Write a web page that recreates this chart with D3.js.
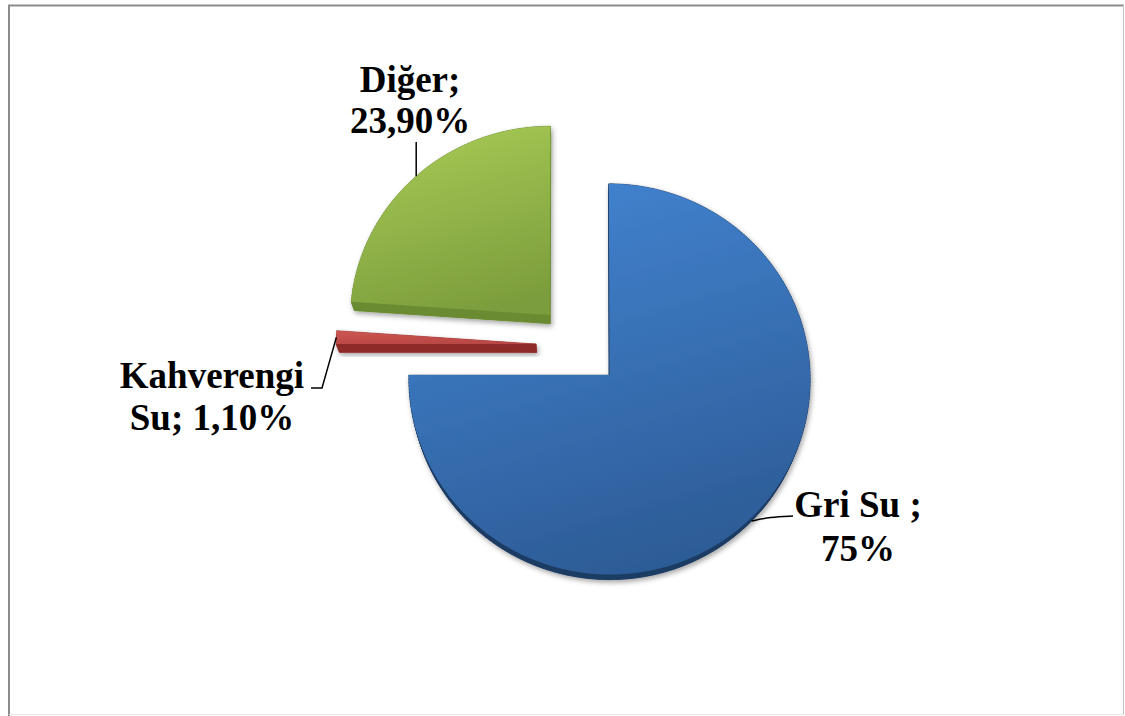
<!DOCTYPE html>
<html>
<head>
<meta charset="utf-8">
<script src="https://cdn.jsdelivr.net/npm/d3@7"></script>
<style>
  html, body { margin: 0; padding: 0; background: #ffffff; }
  svg { display: block; }
</style>
</head>
<body>
<script>
// Water share by category (percent)
const categories = ["Gri Su", "Kahverengi Su", "Diğer"];
const values = [75, 1.1, 23.9];
// Label text lines as printed next to each slice
const labelLines = [["Gri Su ;", "75%"], ["Kahverengi", "Su; 1,10%"], ["Diğer;", "23,90%"]];
const topColors = [["#4283d0", "#2c5b95"], ["#cc5551", "#b84744"], ["#a6c955", "#7c9d3c"]];
const sideColors = ["#1f3c64", "#8e2b29", "#6a8b31"];

const W = 1125, H = 716;
const svg = d3.select("body").append("svg").attr("width", W).attr("height", H);

// frame
svg.append("rect").attr("width", W).attr("height", H).attr("fill", "#fff");
svg.append("line").attr("x1", 8).attr("x2", 1124).attr("y1", 5.5).attr("y2", 5.5)
  .attr("stroke", "#8c8c8c").attr("stroke-width", 2);
svg.append("line").attr("x1", 9).attr("x2", 9).attr("y1", 5).attr("y2", 716)
  .attr("stroke", "#8c8c8c").attr("stroke-width", 2);
svg.append("line").attr("x1", 1123.5).attr("x2", 1123.5).attr("y1", 5).attr("y2", 715)
  .attr("stroke", "#c4c4c4").attr("stroke-width", 1);
svg.append("line").attr("x1", 9).attr("x2", 1124).attr("y1", 714.5).attr("y2", 714.5)
  .attr("stroke", "#e6e6e6").attr("stroke-width", 1);

// 3D pie geometry: table-plane coordinates projected with a mild tilt and perspective
const O = { x: 579, y: 345.5 };
const R = 200, explode = 43, thick = 34;
const tilt = 14 * Math.PI / 180, dist = 2340;
function project(u, v, z) {
  const s = dist / (dist - v * Math.sin(tilt) - z * Math.cos(tilt));
  return [O.x + u * s, O.y + (v * Math.cos(tilt) - z * Math.sin(tilt)) * s];
}

const arcs = d3.pie().sort(null).value(d => d)(values);
const defs = svg.append("defs");

const shadow = defs.append("filter").attr("id", "shadow")
  .attr("x", "-20%").attr("y", "-20%").attr("width", "140%").attr("height", "140%");
shadow.append("feDropShadow").attr("dx", 1.5).attr("dy", 2.5).attr("stdDeviation", 2.5)
  .attr("flood-color", "#000").attr("flood-opacity", 0.35);

const line = d3.line();

function slicePoints(a) {
  const mid = (a.startAngle + a.endAngle) / 2;
  const cu = explode * Math.sin(mid), cv = -explode * Math.cos(mid);
  const pts = [[cu, cv]];
  const steps = Math.max(2, Math.ceil((a.endAngle - a.startAngle) / (Math.PI / 180)));
  for (let i = 0; i <= steps; i++) {
    const t = a.startAngle + (a.endAngle - a.startAngle) * i / steps;
    pts.push([cu + R * Math.sin(t), cv - R * Math.cos(t)]);
  }
  return { pts, cu, cv, mid };
}

arcs.forEach((a, i) => {
  const g = svg.append("g").attr("filter", "url(#shadow)");
  const { pts } = slicePoints(a);
  const top = pts.map(p => project(p[0], p[1], 0));
  const bot = pts.map(p => project(p[0], p[1], -thick));

  const grad = defs.append("linearGradient").attr("id", "g" + i)
    .attr("x1", 0.3).attr("y1", 0).attr("x2", 0.6).attr("y2", 1);
  grad.append("stop").attr("offset", 0).attr("stop-color", topColors[i][0]);
  grad.append("stop").attr("offset", 1).attr("stop-color", topColors[i][1]);

  // side walls
  const side = g.append("g").attr("fill", sideColors[i]).attr("stroke", sideColors[i]).attr("stroke-width", 0.6);
  side.append("path").attr("d", line(bot) + "Z");
  for (let k = 0; k < pts.length; k++) {
    const n = (k + 1) % pts.length;
    side.append("path").attr("d", line([top[k], top[n], bot[n], bot[k]]) + "Z");
  }
  // top face
  g.append("path").attr("d", line(top) + "Z").attr("fill", `url(#g${i})`);
});

// leader lines and labels
function arcPoint(a, z) {
  const { cu, cv, mid } = slicePoints(a);
  return project(cu + R * Math.sin(mid), cv - R * Math.cos(mid), z);
}
const leaders = [
  [arcPoint(arcs[0], -thick), [770, 517], [793, 516]],
  [arcPoint(arcs[1], 0), [322, 388], [311, 388]],
  [arcPoint(arcs[2], 0), null, null]
];
const dP = leaders[2][0];
leaders[2][1] = [dP[0], 142];
leaders[2] = leaders[2].slice(0, 2);

svg.append("path").attr("d", d3.line().curve(d3.curveBasis)(leaders[0]))
  .attr("fill", "none").attr("stroke", "#000").attr("stroke-width", 1.5);
svg.append("path").attr("d", line(leaders[1]))
  .attr("fill", "none").attr("stroke", "#000").attr("stroke-width", 1.5);
svg.append("path").attr("d", line(leaders[2]))
  .attr("fill", "none").attr("stroke", "#000").attr("stroke-width", 1.5);

const labelPos = [{ x: 858, y: 517, dy: 44 }, { x: 212, y: 388, dy: 42 }, { x: 410, y: 92, dy: 41 }];
labelLines.forEach((lines, i) => {
  const t = svg.append("text")
    .attr("text-anchor", "middle")
    .attr("font-family", "'Liberation Serif', 'Times New Roman', serif")
    .attr("font-weight", "bold").attr("font-size", 37).attr("fill", "#000");
  lines.forEach((s, j) => {
    t.append("tspan").attr("x", labelPos[i].x).attr("y", labelPos[i].y + j * labelPos[i].dy).text(s);
  });
});
</script>
</body>
</html>
